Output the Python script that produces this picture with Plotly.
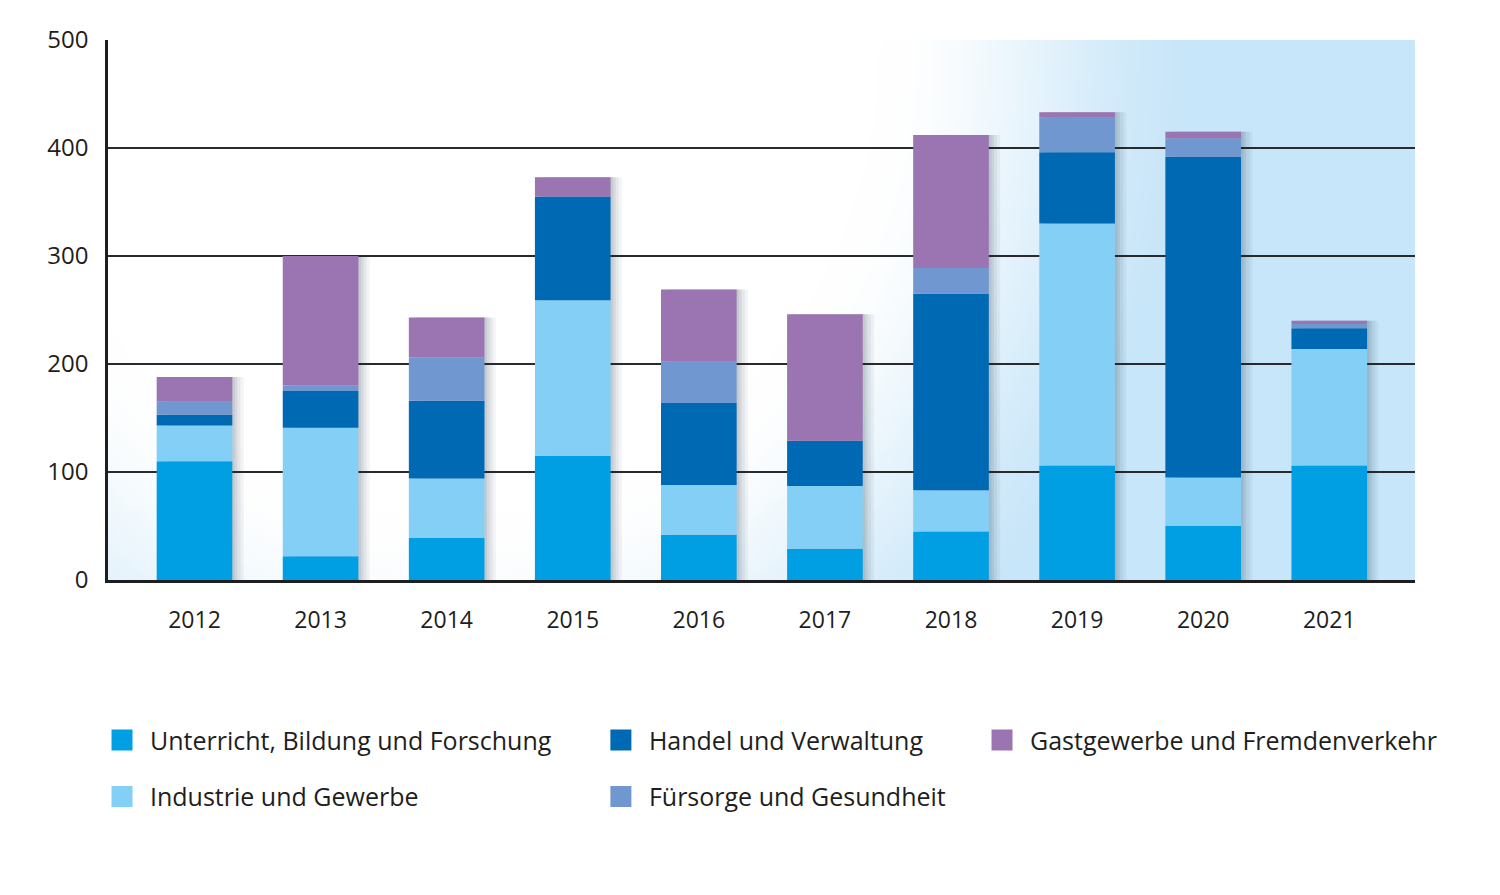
import base64
import struct
import zlib

import numpy as np
import plotly.graph_objects as go

# ---------------- data ----------------
years = ["2012", "2013", "2014", "2015", "2016", "2017", "2018", "2019", "2020", "2021"]
unterricht = [110, 22, 39, 115, 42, 29, 45, 106, 50, 106]
industrie = [33, 119, 55, 144, 46, 58, 38, 224, 45, 108]
handel = [10, 34, 72, 96, 76, 42, 182, 66, 297, 19]
fuersorge = [12, 5, 40, 0, 38, 0, 24, 32, 17, 4]
gastgewerbe = [23, 120, 37, 18, 67, 117, 123, 5, 6, 3]

series_names = [
    "Unterricht, Bildung und Forschung",
    "Industrie und Gewerbe",
    "Handel und Verwaltung",
    "Fürsorge und Gesundheit",
    "Gastgewerbe und Fremdenverkehr",
]
series_values = [unterricht, industrie, handel, fuersorge, gastgewerbe]
series_colors = ["#009fe3", "#84cff5", "#0069b4", "#7097cf", "#9b74b2"]
legend_ids = ["legend", "legend", "legend2", "legend2", "legend3"]
y_ticks = [0, 100, 200, 300, 400, 500]

FONT = "Open Sans"
TXT = "#1e1e1e"


# ---------------- background gradient (png) ----------------
def make_png(rgb):
    h, w, _ = rgb.shape
    raw = b"".join(b"\x00" + rgb[r].tobytes() for r in range(h))

    def chunk(tag, data):
        c = struct.pack(">I", len(data)) + tag + data
        return c + struct.pack(">I", zlib.crc32(tag + data) & 0xFFFFFFFF)

    png = b"\x89PNG\r\n\x1a\n"
    png += chunk(b"IHDR", struct.pack(">IIBBBBB", w, h, 8, 2, 0, 0, 0))
    png += chunk(b"IDAT", zlib.compress(raw, 9))
    png += chunk(b"IEND", b"")
    return "data:image/png;base64," + base64.b64encode(png).decode()


W_IMG, H_IMG = 327, 135
xs = np.linspace(108, 1415, W_IMG)
ys = np.linspace(40, 580, H_IMG)
XX, YY = np.meshgrid(xs, ys)
d = np.sqrt(((XX - 450) / 900.0) ** 2 + ((YY - 40) / 1000.0) ** 2)
t = np.clip((d - 0.48) / (0.85 - 0.48), 0, 1)
t = t * t * (3 - 2 * t)
c0 = np.array([255, 255, 255], dtype=float)
c1 = np.array([200, 230, 249], dtype=float)
img = (c0[None, None, :] * (1 - t[..., None]) + c1[None, None, :] * t[..., None]).astype(np.uint8)
bg_src = make_png(img)

# ---------------- figure ----------------
fig = go.Figure()

totals = np.sum(np.array(series_values, dtype=float), axis=0)
BAR_W = 0.6

# soft shadows
for dx, op in [(0.09, 0.05), (0.065, 0.06), (0.04, 0.07), (0.02, 0.08)]:
    fig.add_trace(
        go.Bar(
            x=years,
            y=totals,
            base=[0] * len(years),
            width=BAR_W,
            offset=-BAR_W / 2 + dx,
            marker=dict(color=f"rgba(20,40,60,{op})", line=dict(width=0)),
            showlegend=False,
            hoverinfo="skip",
        )
    )

base = np.zeros(len(years))
for name, vals, col in zip(series_names, series_values, series_colors):
    fig.add_trace(
        go.Bar(
            x=years,
            y=vals,
            base=base.copy(),
            width=BAR_W,
            offset=-BAR_W / 2,
            name=name,
            marker=dict(color=col, line=dict(width=0)),
            showlegend=False,
        )
    )
    base = base + np.array(vals, dtype=float)

# legend entries
for name, col, lg in zip(series_names, series_colors, legend_ids):
    fig.add_trace(
        go.Scatter(
            x=[None],
            y=[None],
            mode="markers",
            name=name,
            legend=lg,
            legendgroup=name,
            marker=dict(symbol="square", size=16, color=col, line=dict(width=5, color=col)),
        )
    )

legend_common = dict(
    orientation="v",
    yanchor="top",
    y=-0.254,
    xanchor="left",
    font=dict(family=FONT, size=25, color=TXT),
    bgcolor="rgba(0,0,0,0)",
    itemwidth=46,
    tracegroupgap=21,
    itemclick=False,
    itemdoubleclick=False,
)

fig.update_layout(
    width=1500,
    height=895,
    margin=dict(l=100, r=93, t=32, b=323),
    paper_bgcolor="white",
    plot_bgcolor="white",
    barmode="overlay",
    font=dict(family=FONT, size=22, color=TXT),
    legend=dict(legend_common, x=-0.0107),
    legend2=dict(legend_common, x=0.371),
    legend3=dict(legend_common, x=0.6626),
    images=[
        dict(
            source=bg_src,
            xref="paper",
            yref="paper",
            x=0,
            y=1,
            sizex=1,
            sizey=1,
            sizing="stretch",
            xanchor="left",
            yanchor="top",
            layer="below",
        )
    ],
)

fig.update_xaxes(
    type="category",
    range=[-0.686, 9.68],
    showgrid=False,
    showline=True,
    linecolor="#1e1e1e",
    linewidth=3,
    ticks="",
    ticklabelstandoff=17,
    tickfont=dict(family=FONT, size=23, color=TXT),
)
fig.update_yaxes(
    range=[0, 500],
    tickvals=y_ticks,
    showgrid=True,
    gridcolor="#2a2a2a",
    gridwidth=1.5,
    zeroline=False,
    showline=True,
    linecolor="#1e1e1e",
    linewidth=2.5,
    ticks="",
    ticklabelstandoff=12,
    tickfont=dict(family=FONT, size=24, color=TXT),
)

fig.write_html("out.html")
